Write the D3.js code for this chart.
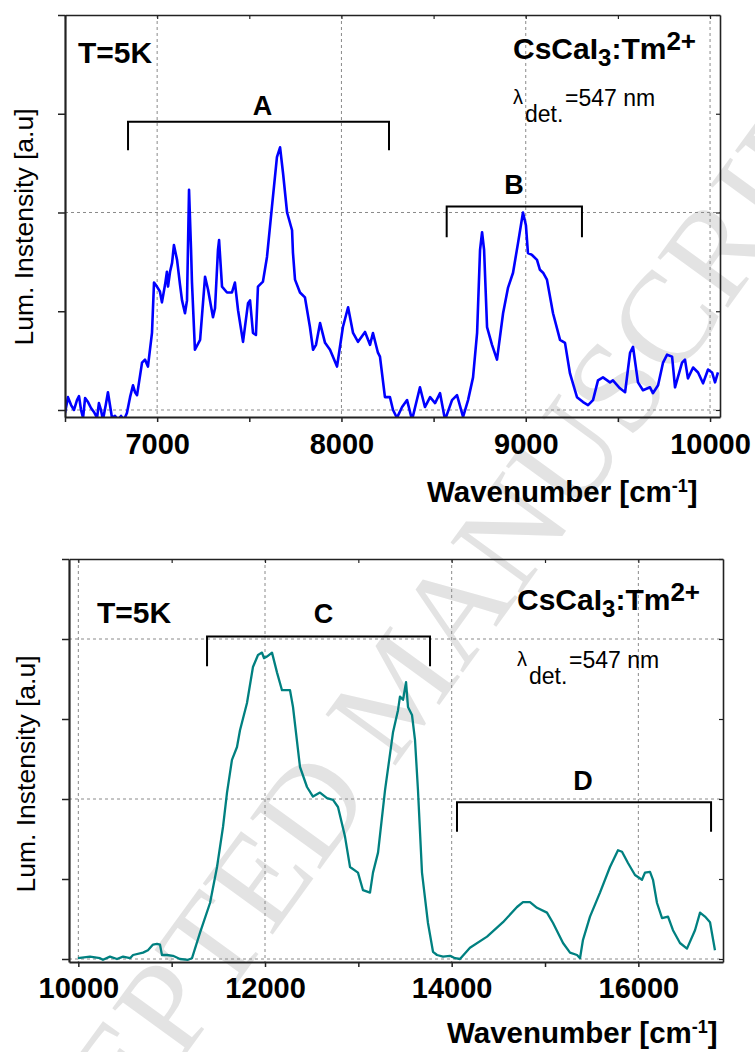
<!DOCTYPE html>
<html><head><meta charset="utf-8">
<script src="https://cdn.jsdelivr.net/npm/d3@7"></script>
<style>
body{margin:0;background:#fff}
svg{display:block}
text{font-family:"Liberation Sans",Arial,Helvetica,sans-serif}
</style>
</head><body>
<svg id="chart" width="755" height="1052"></svg>
<script>
// ---------- data ----------
const topWavenumber = [6500,6516,6533,6549,6565,6576,6587,6598,6609,6625,6641,6657,6674,6684,6695,6706,6722,6733,6744,6755,6771,6788,6804,6820,6836,6853,6869,6880,6891,6918,6934,6950,6972,6983,6999,7015,7026,7043,7053,7059,7070,7081,7091,7108,7124,7135,7151,7162,7173,7184,7189,7205,7233,7260,7276,7303,7314,7330,7336,7352,7379,7406,7422,7439,7466,7493,7504,7520,7536,7547,7574,7596,7623,7650,7667,7683,7705,7732,7737,7748,7775,7802,7829,7846,7862,7884,7911,7938,7976,8008,8036,8063,8090,8128,8155,8171,8198,8209,8236,8263,8280,8301,8329,8356,8383,8426,8453,8481,8508,8535,8562,8600,8627,8660,8687,8714,8736,8752,8763,8774,8790,8817,8844,8877,8904,8931,8958,8985,9001,9012,9034,9061,9077,9094,9115,9148,9186,9213,9240,9278,9311,9338,9365,9392,9419,9457,9473,9511,9539,9566,9582,9609,9636,9674,9690,9718,9745,9767,9794,9810,9848,9864,9880,9908,9935,9962,9989,10011,10027,10043];
const topIntensity = [-0.03,0.13,0.05,0.00,0.10,0.14,0.00,-0.08,0.12,0.08,0.02,-0.02,-0.08,0.07,0.00,-0.10,0.06,0.18,0.05,-0.08,-0.06,-0.10,-0.06,-0.10,-0.03,0.13,0.25,0.18,0.15,0.48,0.51,0.44,0.78,1.29,1.25,1.20,1.09,1.27,1.40,1.25,1.40,1.49,1.67,1.52,1.27,1.11,0.98,1.11,2.23,1.62,1.29,0.61,0.71,1.35,1.22,0.94,1.03,1.62,1.72,1.25,1.19,1.19,1.29,1.01,0.69,1.08,1.11,0.78,0.76,1.25,1.30,1.55,2.06,2.56,2.66,2.40,2.00,1.82,1.59,1.32,1.19,1.14,0.84,0.61,0.66,0.88,0.68,0.61,0.44,0.84,1.04,0.78,0.69,0.79,0.66,0.78,0.58,0.54,0.13,0.13,0.00,-0.08,0.03,0.10,-0.10,0.23,0.03,0.13,0.07,0.17,-0.10,0.10,0.15,-0.07,0.10,0.33,0.78,1.62,1.80,1.62,0.84,0.66,0.51,0.98,1.24,1.39,1.69,2.00,1.87,1.59,1.57,1.52,1.42,1.39,1.32,0.98,0.71,0.68,0.37,0.13,0.08,0.05,0.10,0.30,0.33,0.28,0.30,0.22,0.18,0.58,0.64,0.28,0.20,0.23,0.17,0.25,0.48,0.56,0.54,0.23,0.48,0.51,0.32,0.43,0.38,0.27,0.41,0.38,0.28,0.38];

const bottomWavenumber = [9996,10125,10232,10264,10339,10414,10479,10554,10586,10693,10746,10800,10843,10875,10896,10950,11014,11089,11175,11218,11304,11411,11486,11550,11593,11646,11700,11732,11807,11871,11925,11968,11989,12021,12075,12129,12182,12236,12268,12300,12375,12450,12514,12589,12664,12729,12782,12857,12911,12996,13050,13125,13157,13211,13286,13371,13425,13446,13479,13511,13532,13575,13607,13639,13682,13746,13800,13843,13907,13982,14036,14089,14196,14379,14550,14700,14764,14839,14914,15021,15086,15193,15268,15343,15375,15407,15482,15589,15696,15782,15825,15889,15964,16039,16071,16125,16157,16200,16254,16318,16371,16446,16521,16607,16661,16714,16768,16821];
const bottomIntensity = [0.01,0.03,0.01,-0.01,0.03,0.00,0.03,0.01,0.05,0.08,0.11,0.18,0.19,0.18,0.05,0.05,0.04,0.00,-0.01,0.01,0.33,0.70,1.15,1.65,2.08,2.49,2.65,2.86,3.20,3.65,3.80,3.83,3.76,3.78,3.83,3.58,3.36,3.36,3.36,3.15,2.40,2.15,2.03,2.08,2.01,1.99,1.90,1.53,1.15,1.08,0.86,0.83,1.08,1.33,2.11,2.83,3.11,3.28,3.24,3.46,3.15,3.05,2.74,2.11,1.08,0.45,0.09,0.05,0.03,0.04,0.01,0.00,0.14,0.28,0.46,0.65,0.71,0.71,0.64,0.58,0.45,0.20,0.08,0.05,0.01,0.24,0.53,0.83,1.15,1.36,1.34,1.20,1.05,0.99,1.08,1.09,0.99,0.70,0.51,0.53,0.36,0.20,0.13,0.36,0.58,0.53,0.46,0.11];

const topXTicks = [6500,7000,7500,8000,8500,9000,9500,10000];
const topXLabels = [7000,8000,9000,10000];
const topYTicks = [0,1,2,3,4];
const topYGrid = [0,2];
const bottomXTicks = [10000,11000,12000,13000,14000,15000,16000];
const bottomXLabels = [10000,12000,14000,16000];
const bottomYTicks = [0,1,2,3,4,5];
const bottomYGrid = [0,2,4];

const topBandLabels = ["A","B"];
const topBandStart = [6842,8571];
const topBandEnd = [8258,9305];
const topBandLevel = [2.92,2.06];
const topBandFoot = [2.63,1.75];
const bottomBandLabels = ["C","D"];
const bottomBandStart = [11379,14057];
const bottomBandEnd = [13768,16779];
const bottomBandLevel = [4.03,1.96];
const bottomBandFoot = [3.66,1.59];

const xTitle = "Wavenumber [cm";
const yTitle = "Lum. Instensity [a.u]";
const tempText = "T=5K";
const detWavelength = "=547 nm";
const watermarkText = "ACCEPTED MANUSCRIPT";

// ---------- drawing ----------
const svg = d3.select("#chart");
svg.append("rect").attr("width",755).attr("height",1052).attr("fill","#fff");

// watermark (light grey, diagonal, cut by the page edges as in the reference)
svg.append("text")
  .attr("transform","translate(-27,1347) rotate(-54)")
  .attr("font-size",132)
  .attr("fill","#e3e3e3")
  .style("font-family","'Liberation Serif','Times New Roman',serif")
  .text(watermarkText);

function panel(cfg){
  const g = svg.append("g");
  const x = d3.scaleLinear().domain(cfg.xDomain).range([cfg.left, cfg.right]);
  const y = d3.scaleLinear().domain(cfg.yDomain).range([cfg.bottom, cfg.top]);
  const clipId = "clip" + cfg.id;
  svg.append("clipPath").attr("id", clipId).append("rect")
    .attr("x", cfg.left).attr("y", cfg.top)
    .attr("width", cfg.right - cfg.left).attr("height", cfg.bottom - cfg.top);

  // grid
  g.append("g").selectAll("line").data(cfg.xLabels).join("line")
    .attr("x1", d => x(d)).attr("x2", d => x(d))
    .attr("y1", cfg.top).attr("y2", cfg.bottom)
    .attr("stroke","#8a8a8a").attr("stroke-width",1).attr("stroke-dasharray","3,3");
  g.append("g").selectAll("line").data(cfg.yGrid).join("line")
    .attr("x1", cfg.left).attr("x2", cfg.right)
    .attr("y1", d => y(d)).attr("y2", d => y(d))
    .attr("stroke","#8a8a8a").attr("stroke-width",1).attr("stroke-dasharray","3,3");

  // curve
  const pts = cfg.xs.map((v,i) => [v, cfg.ys[i]]);
  g.append("path").datum(pts)
    .attr("clip-path", `url(#${clipId})`)
    .attr("fill","none").attr("stroke", cfg.color).attr("stroke-width", cfg.lw)
    .attr("stroke-linejoin","round")
    .attr("d", d3.line().x(d => x(d[0])).y(d => y(d[1])));

  // top & right frame with inward ticks
  const topAx = g.append("g").attr("transform",`translate(0,${cfg.top})`)
    .call(d3.axisTop(x).tickValues(cfg.xTicks).tickSize(-4).tickSizeOuter(0).tickFormat(""));
  const rightAx = g.append("g").attr("transform",`translate(${cfg.right},0)`)
    .call(d3.axisRight(y).tickValues(cfg.yTicks).tickSize(-4).tickSizeOuter(0).tickFormat(""));
  [topAx, rightAx].forEach(a => {
    a.select(".domain").attr("stroke","#222").attr("stroke-width",1.6);
    a.selectAll(".tick line").attr("stroke","#222").attr("stroke-width",1.2);
  });

  // bottom axis
  const bx = g.append("g").attr("transform",`translate(0,${cfg.bottom})`)
    .call(d3.axisBottom(x).tickValues(cfg.xTicks).tickSize(5).tickSizeOuter(0).tickPadding(cfg.pad)
      .tickFormat(d => cfg.xLabels.includes(d) ? d : ""));
  bx.select(".domain").attr("stroke","#222").attr("stroke-width",2.2);
  bx.selectAll(".tick line").attr("stroke","#222").attr("stroke-width",1.5);
  bx.selectAll(".tick text").attr("font-size",29).attr("font-weight","bold").attr("fill","#000")
    .attr("font-family","'Liberation Sans',Arial,sans-serif");

  // left axis
  const lx = g.append("g").attr("transform",`translate(${cfg.left},0)`)
    .call(d3.axisLeft(y).tickValues(cfg.yTicks).tickSize(7).tickSizeOuter(0).tickFormat(""));
  lx.select(".domain").attr("stroke","#222").attr("stroke-width",2.2);
  lx.selectAll(".tick line").attr("stroke","#222").attr("stroke-width",1.5);

  // bands
  cfg.bandLabels.forEach((lab,i) => {
    const x1 = x(cfg.bandStart[i]), x2 = x(cfg.bandEnd[i]);
    const yl = y(cfg.bandLevel[i]), yf = y(cfg.bandFoot[i]);
    g.append("path")
      .attr("d", `M${x1},${yf}V${yl}H${x2}V${yf}`)
      .attr("fill","none").attr("stroke","#000").attr("stroke-width",2);
    g.append("text").attr("x", cfg.labelX[i]).attr("y", cfg.labelY[i])
      .attr("text-anchor","middle").attr("font-size",27).attr("font-weight","bold").text(lab);
  });

  // T=5K
  g.append("text").attr("x", cfg.tX).attr("y", cfg.tY)
    .attr("font-size",30).attr("font-weight","bold").text(tempText);

  // compound
  const c = g.append("text").attr("x", cfg.cX).attr("y", cfg.cY)
    .attr("font-size",30).attr("font-weight","bold");
  c.append("tspan").text("CsCaI");
  c.append("tspan").attr("font-size",24).attr("dy",7).text("3");
  c.append("tspan").attr("dy",-7).text(":Tm");
  c.append("tspan").attr("font-size",26).attr("dy",-9).text("2+");

  // lambda det
  g.append("text").attr("x", cfg.cX).attr("y", cfg.lY - 2).attr("font-size",20).text("λ");
  g.append("text").attr("x", cfg.cX + 12).attr("y", cfg.lY + 16).attr("font-size",23).text("det.");
  g.append("text").attr("x", cfg.cX + 52).attr("y", cfg.lY).attr("font-size",23).text(detWavelength);

  // x title
  const xt = g.append("text").attr("x", cfg.xtX).attr("y", cfg.xtY)
    .attr("font-size",29.5).attr("font-weight","bold");
  xt.append("tspan").text(xTitle);
  xt.append("tspan").attr("font-size",18).attr("dy",-10).text("-1");
  xt.append("tspan").attr("dy",10).text("]");

  // y title
  g.append("text").attr("transform",`translate(${cfg.ytX},${cfg.ytY}) rotate(-90)`)
    .attr("text-anchor","middle").attr("font-size",26.5).text(yTitle);
}

panel({id:"t", left:65, right:720, top:15, bottom:417,
  xDomain:[6500,10054], yDomain:[-0.071,4.0],
  xs:topWavenumber, ys:topIntensity, color:"#0000ff", lw:2.6,
  xTicks:topXTicks, xLabels:topXLabels, yTicks:topYTicks, yGrid:topYGrid, pad:11,
  bandLabels:topBandLabels, bandStart:topBandStart, bandEnd:topBandEnd, bandLevel:topBandLevel, bandFoot:topBandFoot,
  labelX:[262.5,514], labelY:[115,194],
  tX:78, tY:63, cX:513, cY:59, lY:106,
  xtX:427, xtY:502, ytX:33, ytY:227});

panel({id:"b", left:69, right:723, top:559, bottom:962,
  xDomain:[9900,16907], yDomain:[-0.0375,5.0],
  xs:bottomWavenumber, ys:bottomIntensity, color:"#008080", lw:2.3,
  xTicks:bottomXTicks, xLabels:bottomXLabels, yTicks:bottomYTicks, yGrid:bottomYGrid, pad:10,
  bandLabels:bottomBandLabels, bandStart:bottomBandStart, bandEnd:bottomBandEnd, bandLevel:bottomBandLevel, bandFoot:bottomBandFoot,
  labelX:[323.5,583], labelY:[623,790],
  tX:97, tY:623, cX:517, cY:610, lY:668,
  xtX:447, xtY:1043, ytX:35, ytY:774});
</script>
</body></html>
